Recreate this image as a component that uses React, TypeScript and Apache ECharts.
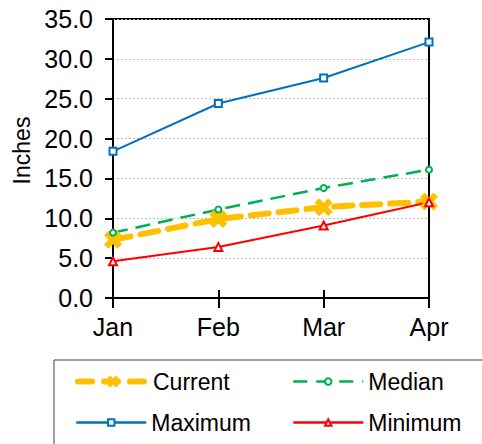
import React, { useEffect, useRef } from "react";
import * as echarts from "echarts";

const months = ["Jan", "Feb", "Mar", "Apr"];
const currentVals = [7.3, 9.9, 11.4, 12.1];
const medianVals = [8.2, 11.1, 13.8, 16.1];
const maximumVals = [18.4, 24.4, 27.6, 32.1];
const minimumVals = [4.6, 6.4, 9.1, 12.0];

const FONT = "'Liberation Sans', Arial, sans-serif";
const xPath =
  "path://M4,0 L8,4 L12,0 L16,4 L12,8 L16,12 L12,16 L8,12 L4,16 L0,12 L4,8 L0,4 Z";

export default function App() {
  const ref = useRef<HTMLDivElement>(null);
  useEffect(() => {
    if (!ref.current) return;
    const chart = echarts.init(ref.current, null, { renderer: "svg" });
    const legendCommon = {
      orient: "horizontal",
      padding: 0,
      itemWidth: 70,
      itemHeight: 8,
      textStyle: { fontFamily: FONT, fontSize: 23, color: "#000" },
      selectedMode: false,
    };
    chart.setOption({
      animation: false,
      backgroundColor: "#fff",
      grid: {
        left: 113,
        right: 53,
        top: 19,
        bottom: 146,
        show: true,
        borderColor: "#000",
        borderWidth: 2,
        backgroundColor: "transparent",
      },
      xAxis: [
        {
          type: "category",
          data: months,
          boundaryGap: false,
          axisLine: { lineStyle: { color: "#000", width: 2 } },
          axisTick: { show: true, length: 10, lineStyle: { color: "#000", width: 2 } },
          axisLabel: { fontFamily: FONT, fontSize: 25, color: "#000", margin: 16 },
          splitLine: { show: false },
        },
        {
          type: "category",
          data: months,
          position: "bottom",
          boundaryGap: false,
          axisLine: { show: false },
          axisTick: { show: true, inside: true, length: 8, lineStyle: { color: "#000", width: 2 } },
          axisLabel: { show: false },
          splitLine: { show: false },
        },
      ],
      yAxis: {
        type: "value",
        min: 0,
        max: 35,
        interval: 5,
        name: "Inches",
        nameLocation: "middle",
        nameGap: 80,
        nameTextStyle: { fontFamily: FONT, fontSize: 23, color: "#000", padding: [0, 0, 0, 16] },
        axisLine: { show: true, lineStyle: { color: "#000", width: 2 } },
        axisTick: { show: true, length: 8, lineStyle: { color: "#000", width: 2 } },
        axisLabel: {
          fontFamily: FONT,
          fontSize: 25,
          color: "#000",
          margin: 20,
          formatter: (v: number) => v.toFixed(1),
        },
        splitLine: { show: true, lineStyle: { color: "#BFBFBF", width: 1, type: [2, 2] } },
      },
      legend: [
        {
          ...legendCommon,
          data: ["Current"],
          left: 75,
          top: 370,
          itemHeight: 15,
          lineStyle: { width: 6, type: [14, 12], cap: "round" },
        },
        { ...legendCommon, data: ["Median"], left: 292, top: 370, lineStyle: { width: 2.5, type: [14, 9] } },
        { ...legendCommon, data: ["Maximum"], left: 75, top: 411, lineStyle: { width: 2.5 } },
        { ...legendCommon, data: ["Minimum"], left: 292, top: 411, lineStyle: { width: 2.5 } },
      ],
      graphic: [
        {
          type: "rect",
          shape: { x: 54, y: 360, width: 440, height: 100 },
          style: { fill: "none", stroke: "#404040", lineWidth: 1 },
          silent: true,
        },
      ],
      series: [
        {
          name: "Current",
          type: "line",
          data: currentVals,
          symbol: xPath,
          symbolSize: 18,
          color: "#FFC000",
          itemStyle: { color: "#FFC000", borderWidth: 0 },
          lineStyle: { color: "#FFC000", width: 6, type: [18, 10], cap: "round" },
        },
        {
          name: "Median",
          type: "line",
          data: medianVals,
          symbol: "emptyCircle",
          symbolSize: 6,
          color: "#00B050",
          itemStyle: { color: "#00B050", borderWidth: 1 },
          lineStyle: { color: "#00B050", width: 2.5, type: [15, 8] },
        },
        {
          name: "Maximum",
          type: "line",
          data: maximumVals,
          symbol: "emptyRect",
          symbolSize: 7,
          color: "#0070C0",
          itemStyle: { color: "#0070C0", borderWidth: 1 },
          lineStyle: { color: "#0070C0", width: 2 },
        },
        {
          name: "Minimum",
          type: "line",
          data: minimumVals,
          symbol: "emptyTriangle",
          symbolSize: 8,
          color: "#FF0000",
          itemStyle: { color: "#FF0000", borderWidth: 1 },
          lineStyle: { color: "#FF0000", width: 2 },
        },
      ],
    });
    return () => chart.dispose();
  }, []);
  return (
    <div
      ref={ref}
      style={{ position: "fixed", left: 0, top: 0, width: 482, height: 444 }}
    />
  );
}
